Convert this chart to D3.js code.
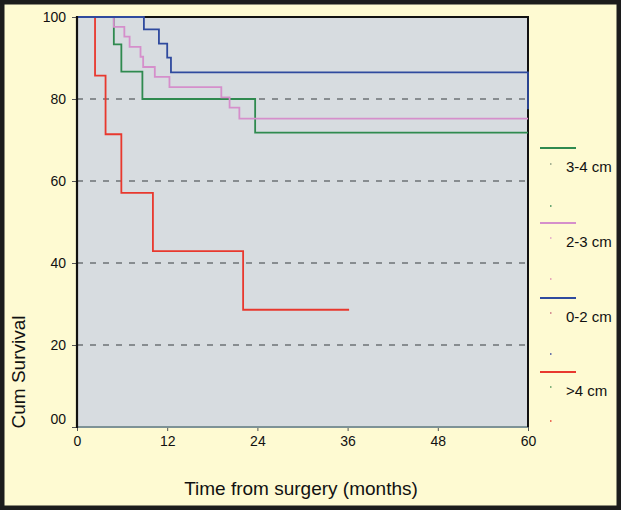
<!DOCTYPE html>
<html><head><meta charset="utf-8">
<script src="https://cdn.jsdelivr.net/npm/d3@7"></script>
<style>html,body{margin:0;padding:0;background:#fefad2}svg{display:block}text{font-family:"Liberation Sans",Arial,sans-serif}</style>
</head><body>
<svg id="c" width="621" height="510"></svg>
<script>
// ---- data ----
const groups = ["3-4 cm", "2-3 cm", "0-2 cm", ">4 cm"];
const greenTimes = [0, 4.9, 5.9, 8.7, 23.7, 60];
const greenSurv  = [100, 93.3, 86.7, 80.0, 71.8, 71.8];
const pinkTimes  = [0, 4.9, 6.3, 7.0, 8.45, 8.8, 10.35, 12.3, 19.2, 20.3, 21.6, 60];
const pinkSurv   = [100, 97.6, 95.2, 92.7, 90.3, 87.8, 85.4, 82.9, 80.4, 77.9, 75.2, 75.2];
const blueTimes  = [0, 8.9, 10.9, 12.0, 12.5, 60, 60];
const blueSurv   = [100, 97.0, 93.5, 90.1, 86.5, 86.5, 77.5];
const redTimes   = [0, 2.4, 3.8, 5.9, 10.1, 22.1, 36.2];
const redSurv    = [100, 85.7, 71.4, 57.1, 42.9, 28.6, 28.6];
const xTicks = [0, 12, 24, 36, 48, 60];
const yTicks = [0, 20, 40, 60, 80, 100];
const yTickLabels = ["00", "20", "40", "60", "80", "100"];
const gridValues = [20, 40, 60, 80];

const colors = {"3-4 cm":"#2f8a4f","2-3 cm":"#d58fcb","0-2 cm":"#2f4a9e",">4 cm":"#e8382e"};

const svg = d3.select("#c");
const W = 621, H = 510;
const x = d3.scaleLinear().domain([0, 60]).range([77, 528]);
const y = d3.scaleLinear().domain([0, 100]).range([427, 17]);

// outer background & frame
svg.append("rect").attr("x",0).attr("y",0).attr("width",W).attr("height",H).attr("fill","#fefad2");
svg.append("rect").attr("x",2).attr("y",2).attr("width",W-4).attr("height",H-4)
  .attr("fill","none").attr("stroke","#1c1c1c").attr("stroke-width",5);

// plot background
svg.append("rect").attr("x",x(0)).attr("y",y(100)).attr("width",x(60)-x(0)).attr("height",y(0)-y(100))
  .attr("fill","#d7dce0");

// dashed grid
svg.append("g").selectAll("line").data(gridValues).join("line")
  .attr("x1",x(0)).attr("x2",x(60)).attr("y1",d=>y(d)).attr("y2",d=>y(d))
  .attr("stroke","#6e7275").attr("stroke-width",1.5).attr("stroke-dasharray","6,7");

// axes
const yAxis = d3.axisLeft(y).tickValues(yTicks).tickSize(5).tickPadding(6)
  .tickFormat((d,i)=>yTickLabels[i]);
const gy = svg.append("g").attr("transform",`translate(${x(0)},0)`).call(yAxis);
gy.select(".domain").remove();
gy.selectAll(".tick line").attr("stroke","#555").attr("stroke-width",1);
gy.selectAll(".tick text").attr("font-size",14).attr("fill","#111")
  .attr("dy",d=>d===0?"-0.25em":"0.32em");

const xAxis = d3.axisBottom(x).tickValues(xTicks).tickSize(4).tickPadding(5).tickFormat(d3.format("d"));
const gx = svg.append("g").attr("transform",`translate(0,${y(0)})`).call(xAxis);
gx.select(".domain").remove();
gx.selectAll(".tick line").attr("stroke","#555").attr("stroke-width",1);
gx.selectAll(".tick text").attr("font-size",14).attr("fill","#111");

// frame lines
svg.append("line").attr("x1",x(0)).attr("x2",x(60)).attr("y1",y(0)).attr("y2",y(0))
  .attr("stroke","#7d9296").attr("stroke-width",2);
svg.append("line").attr("x1",x(0)).attr("x2",x(60)).attr("y1",y(100)).attr("y2",y(100))
  .attr("stroke","#111").attr("stroke-width",2);
svg.append("line").attr("x1",x(60)).attr("x2",x(60)).attr("y1",y(100)-1).attr("y2",y(0))
  .attr("stroke","#111").attr("stroke-width",2);

// curves
const line = d3.line().x(d=>x(d[0])).y(d=>y(d[1])).curve(d3.curveStepAfter);
const series = [
  {name:"3-4 cm", t:greenTimes, s:greenSurv},
  {name:"2-3 cm", t:pinkTimes, s:pinkSurv},
  {name:">4 cm", t:redTimes, s:redSurv},
  {name:"0-2 cm", t:blueTimes, s:blueSurv}
];
svg.append("g").selectAll("path").data(series).join("path")
  .attr("d",d=>line(d.t.map((t,i)=>[t,d.s[i]])))
  .attr("fill","none").attr("stroke",d=>colors[d.name]).attr("stroke-width",1.8);

// left axis line on top
svg.append("line").attr("x1",x(0)).attr("x2",x(0)).attr("y1",y(100)-1).attr("y2",y(0)+1)
  .attr("stroke","#111").attr("stroke-width",2.2);

// legend
const legY = [148, 223, 298, 372];
const lg = svg.append("g");
groups.forEach((g,i)=>{
  lg.append("line").attr("x1",540).attr("x2",576).attr("y1",legY[i]).attr("y2",legY[i])
    .attr("stroke",colors[g]).attr("stroke-width",2);
  lg.append("text").attr("x",566).attr("y",legY[i]+19).attr("dy","0.35em")
    .attr("font-size",15).attr("fill","#111").text(g);
});
// censor marks in legend
const dotY = [164, 206, 238, 279, 313, 354, 387, 421];
const dotC = ["#8a9a80","#3a8a55","#e0a0c8","#e08fb0","#c87080","#3a4a9e","#5a9a60","#e84030"];
lg.selectAll("rect.d").data(dotY).join("rect").attr("class","d")
  .attr("x",550).attr("y",d=>d-0.75).attr("width",1.5).attr("height",1.5)
  .attr("fill",(d,i)=>dotC[i]);

// axis titles
svg.append("text").attr("transform","translate(25,372) rotate(-90)").attr("text-anchor","middle")
  .attr("font-size",19).attr("fill","#111").text("Cum Survival");
svg.append("text").attr("x",301).attr("y",495).attr("text-anchor","middle")
  .attr("font-size",19).attr("fill","#111").text("Time from surgery (months)");
</script>
</body></html>
